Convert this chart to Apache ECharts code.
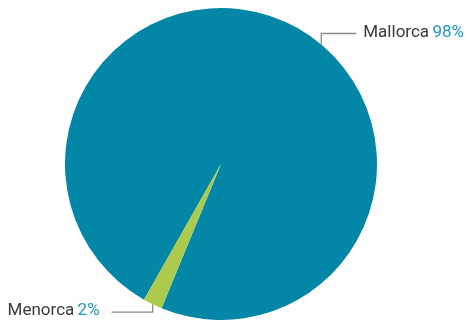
<!DOCTYPE html>
<html><head><meta charset="utf-8">
<script src="https://cdn.jsdelivr.net/npm/echarts@6/dist/echarts.min.js"></script>
<style>html,body{margin:0;padding:0;background:#fff}#c{width:467px;height:322px}</style>
</head><body><div id="c"></div>
<script>
const categories = ['Mallorca', 'Menorca'];
const values = [98, 2];
const colors = ['#0487a7', '#abca4e'];

const CX = 221, CY = 164, R = 156, START = 240.4;
// label leader styles: anchor angle (clockwise from top; null = slice middle), vertical offset, horizontal run, gap, side
const leader = [
  {anchor: 40, dy: -11, run: 35, gap: 7, side: 1},
  {anchor: null, dy: 8, run: 41, gap: 12, side: -1}
];
const total = values.reduce((a, b) => a + b, 0);
function midAngle(i) {
  let acc = 0;
  for (let k = 0; k < i; k++) acc += values[k];
  const startCW = 90 - START; // clockwise-from-top
  return startCW + (acc + values[i] / 2) / total * 360;
}
const FONT = "Roboto, 'Liberation Sans', sans-serif";

const chart = echarts.init(document.getElementById('c'), null, {renderer: 'canvas'});
chart.setOption({
  animation: false,
  series: [{
    type: 'pie',
    center: [CX, CY],
    radius: R,
    startAngle: START,
    clockwise: true,
    percentPrecision: 0,
    data: categories.map((n, i) => ({name: n, value: values[i], itemStyle: {color: colors[i]}})),
    label: {
      show: true,
      formatter: p => '{n|' + p.name + '} {p|' + Math.round(p.percent) + '%}',
      rich: {
        n: {color: '#3a3a3a', fontSize: 17, fontFamily: FONT},
        p: {color: '#1e9cbb', fontSize: 17, fontFamily: FONT}
      }
    },
    labelLine: {show: true, lineStyle: {color: '#8a8a8a', width: 1.3}},
    labelLayout: function (params) {
      const i = params.dataIndex;
      const L = leader[i];
      const ang = (L.anchor === null ? midAngle(i) : L.anchor) * Math.PI / 180;
      const ax = CX + R * Math.sin(ang), ay = CY - R * Math.cos(ang);
      const y1 = ay + L.dy;
      const x2 = ax + L.side * L.run;
      return {
        x: x2 + L.side * L.gap,
        y: y1 - 1,
        align: L.side > 0 ? 'left' : 'right',
        verticalAlign: 'middle',
        labelLinePoints: [[ax, ay], [ax, y1], [x2, y1]]
      };
    }
  }]
});
</script></body></html>
